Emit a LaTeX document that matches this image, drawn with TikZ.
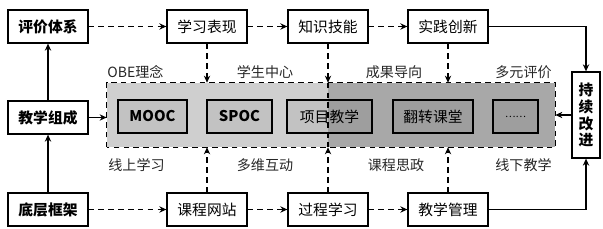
\documentclass[tikz,border=0pt]{standalone}
\usepackage{fontspec}
\setmainfont{Noto Sans CJK SC}
\usetikzlibrary{arrows.meta}

\tikzset{
  kuang/.style={draw, line width=0.9pt, minimum width=2cm, minimum height=0.825cm, inner sep=1pt, font=\fontsize{10.5}{12}\selectfont},
  cukuang/.style={kuang, font=\fontsize{10.5}{12}\selectfont\bfseries},
  xiaokuang/.style={draw, line width=0.9pt, minimum height=0.825cm, inner sep=1pt, fill=black, fill opacity=0.06, text opacity=1, font=\fontsize{10.5}{12}\selectfont},
  biaoqian/.style={font=\fontsize{10}{12}\selectfont, text=black!85},
  xuxian/.style={->, dash pattern=on 4pt off 3pt, line width=0.9pt},
  shixian/.style={->, line width=0.9pt},
}

\begin{document}
\begin{tikzpicture}[x=0.025cm, y=-0.025cm, >={Stealth[length=5pt, width=4.5pt]}]
				\useasboundingbox (0,0) rectangle (603,229);
				% 1. 左侧三层
				\node[cukuang] (pjtx) at (48,26.5) {评价体系};
				\node[cukuang] (jxzc) at (48,117.5) {教学组成};
				\node[cukuang] (dckj) at (48,209.5) {底层框架};
				
				% 2. 上下两排
				\node[kuang] (xxbx) at (207,26.5) {学习表现};
				\node[kuang] (zsjn) at (328,26.5) {知识技能};
				\node[kuang] (sjcx) at (448,26.5) {实践创新};
				\node[kuang] (kcwz) at (207,209.5) {课程网站};
				\node[kuang] (gcxx) at (328,209.5) {过程学习};
				\node[kuang] (jxgl) at (448,209.5) {教学管理};
				\node[cukuang, minimum width=0.7cm, minimum height=2.15cm, align=center, inner sep=0pt] (cxgj) at (586,115) {持\\续\\改\\进};
				
				% 3. 中间灰色区域
				\node[minimum width=11.2cm, minimum height=1.6cm, inner sep=0pt] (quyu) at (331,115) {};
				\fill[black!19] (quyu.south west) rectangle (zsjn |- quyu.north);
				\fill[black!34] (zsjn |- quyu.south) rectangle (quyu.north east);
				\draw[dash pattern=on 4pt off 3pt, line width=0.9pt] (quyu.south west) rectangle (quyu.north east);
				\draw[dash pattern=on 4pt off 3pt, line width=0.9pt] (zsjn |- quyu.north) -- (zsjn |- quyu.south);
				
				\node[xiaokuang, minimum width=1.725cm, font=\fontsize{10.5}{12}\selectfont\bfseries] (mooc) at (152.5,116.5) {MOOC};
				\node[xiaokuang, minimum width=1.625cm, font=\fontsize{10.5}{12}\selectfont\bfseries] (spoc) at (239.5,116.5) {SPOC};
				\node[xiaokuang, minimum width=2.125cm] (xmjx) at (329.5,116.5) {项目教学};
				\node[xiaokuang, minimum width=2cm] (fzkt) at (433,116.5) {翻转课堂};
				\node[xiaokuang, minimum width=1.125cm, font=\fontsize{7}{8}\selectfont] (gengduo) at (515.5,116.5) {……};
				
				% 4. 区域标签
				\node[biaoqian] (obe) at (135.5,72) {OBE理念};
				\node[biaoqian] (xszx) at (265,72) {学生中心};
				\node[biaoqian] (cgdx) at (394,72) {成果导向};
				\node[biaoqian] (dypj) at (523.5,72) {多元评价};
				\node[biaoqian] (xsxx) at (136.5,165) {线上学习};
				\node[biaoqian] (dwhd) at (265,165) {多维互动};
				\node[biaoqian] (kcsz) at (396,165) {课程思政};
				\node[biaoqian] (xxjx) at (523.5,165) {线下教学};
				
				% 5. 连线
				\draw[shixian] (jxzc) -- (pjtx);
				\draw[shixian] (dckj) -- (jxzc);
				\draw[shixian] (jxzc.east) -- (jxzc.east -| quyu.west);
				\draw[xuxian] (pjtx) -- (xxbx);
				\draw[xuxian] (xxbx) -- (zsjn);
				\draw[xuxian] (zsjn) -- (sjcx);
				\draw[xuxian] (dckj) -- (kcwz);
				\draw[xuxian] (kcwz) -- (gcxx);
				\draw[xuxian] (gcxx) -- (jxgl);
				\foreach \shang/\xia in {xxbx/kcwz, zsjn/gcxx, sjcx/jxgl}{
					\draw[xuxian] (\shang.south) -- (\shang |- quyu.north);
					\draw[xuxian] (\xia.north) -- (\xia |- quyu.south);
				}
				\draw[shixian] (sjcx.east) -| (cxgj.north);
				\draw[shixian] (jxgl.east) -| (cxgj.south);
				\draw[shixian] (cxgj.west) -- (cxgj.west -| quyu.east);
			\end{tikzpicture}
\end{document}
